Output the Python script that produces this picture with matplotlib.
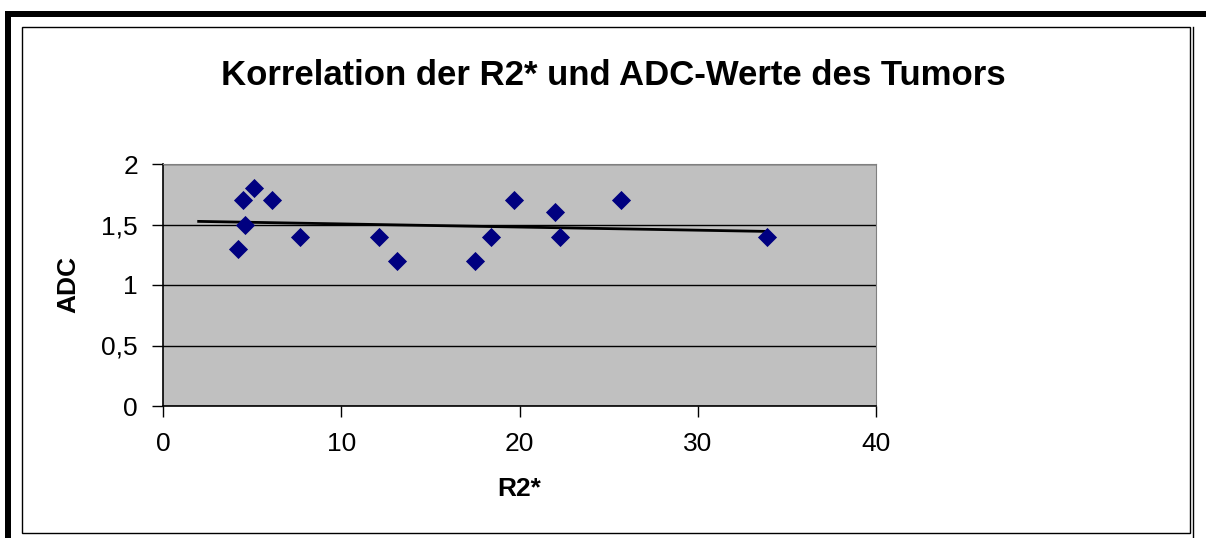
import numpy as np
import matplotlib.pyplot as plt
from matplotlib.patches import Rectangle
from matplotlib.lines import Line2D

r2 = [4.2, 4.5, 4.6, 5.1, 6.1, 7.7, 12.1, 13.1, 17.5, 18.4, 19.7, 22.0, 22.3, 25.7, 33.9]
adc = [1.3, 1.7, 1.5, 1.8, 1.7, 1.4, 1.4, 1.2, 1.2, 1.4, 1.7, 1.6, 1.4, 1.7, 1.4]
x_ticks = [0, 10, 20, 30, 40]
y_ticks = [0, 0.5, 1, 1.5, 2]
y_labels = ['0', '0,5', '1', '1,5', '2']
trend_start = 2

plt.rcParams['font.family'] = ['Liberation Sans', 'DejaVu Sans']

W, H = 1206, 538
fig = plt.figure(figsize=(W / 100, H / 100), dpi=100)

# Rahmen
fig.patches.append(Rectangle((5 / W, 0), 6 / W, 1 - 11 / H, transform=fig.transFigure,
                             facecolor='black', edgecolor='none'))
fig.patches.append(Rectangle((5 / W, 1 - 17 / H), 1, 6 / H, transform=fig.transFigure,
                             facecolor='black', edgecolor='none'))
fig.patches.append(Rectangle((22 / W, 5 / H), (1190 - 22) / W, (533 - 27) / H,
                             transform=fig.transFigure, facecolor='none',
                             edgecolor='black', linewidth=1))
fig.lines.append(Line2D([1193 / W, 1193 / W], [0, 1 - 27 / H], transform=fig.transFigure,
                        color='black', linewidth=1))

ax = fig.add_axes([163 / W, 132 / H, 713 / W, 242 / H])
ax.set_facecolor('#c0c0c0')

ax.scatter(r2, adc, marker='D', s=95, color='#000080', zorder=3, linewidths=0)

# lineare Trendlinie
k, b = np.polyfit(r2, adc, 1)
xt = np.array([trend_start, max(r2)])
ax.plot(xt, k * xt + b, color='black', linewidth=2, zorder=2)

ax.set_xlim(0, 40)
ax.set_ylim(0, 2)
ax.set_xticks(x_ticks)
ax.set_yticks(y_ticks)
ax.set_yticklabels(y_labels)
ax.grid(True, axis='y', color='black', linewidth=1)
ax.set_axisbelow(True)
ax.tick_params(direction='out', length=8, width=1, labelsize=19)
ax.tick_params(axis='x', pad=11)
ax.tick_params(axis='y', pad=10)

for s in ['top', 'right']:
    ax.spines[s].set_color('#808080')
ax.spines['left'].set_linewidth(1.2)
ax.spines['bottom'].set_linewidth(1.2)

ax.set_xlabel('R2*', fontsize=19, fontweight='bold', va='center')
ax.set_ylabel('ADC', fontsize=19, fontweight='bold', va='center')
ax.xaxis.set_label_coords(0.499, -0.343)
ax.yaxis.set_label_coords(-0.133, 0.504)

fig.text(613 / W, 1 - 75 / H, 'Korrelation der R2* und ADC-Werte des Tumors',
         ha='center', va='center', fontsize=25, fontweight='bold')

fig.savefig('out.png', dpi=100)
